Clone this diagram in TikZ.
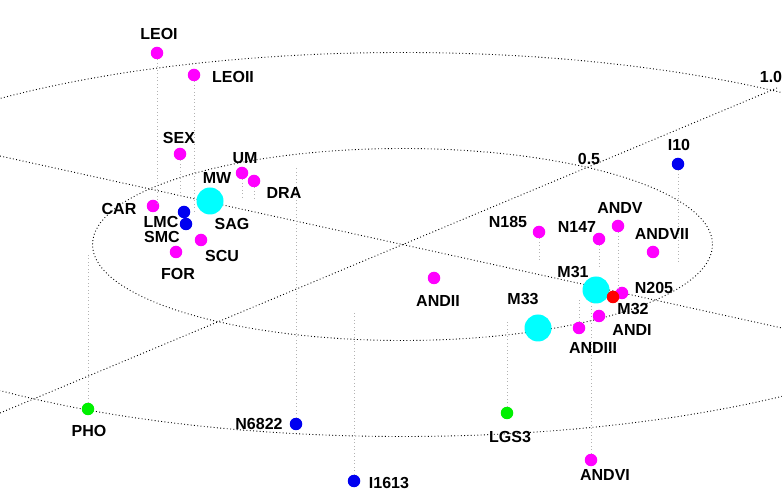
\documentclass[tikz,border=0pt]{standalone}
\usepackage{fontspec}
\setmainfont{Liberation Sans}
\definecolor{Mag}{RGB}{255,0,255}
\definecolor{Cya}{RGB}{0,255,255}
\definecolor{Blu}{RGB}{0,0,240}
\definecolor{Grn}{RGB}{0,240,0}
\definecolor{Rd}{RGB}{255,0,0}
\tikzset{
  ring/.style={line width=0.9pt, dash pattern=on 0.9pt off 2.4pt},
  drop/.style={draw=gray!60, line width=0.9pt, dash pattern=on 0.9pt off 2.6pt},
  gal/.style={circle, fill=#1, inner sep=0pt, minimum size=12.5pt},
  big/.style={circle, fill=Cya, inner sep=0pt, minimum size=27pt},
  lbl/.style={font=\bfseries\fontsize{16}{17}\selectfont, inner sep=0pt}
}

\begin{document}
\begin{tikzpicture}[x=1pt,y=-1pt]
          \useasboundingbox (0,0) rectangle (782,502);
          \clip (0,0) rectangle (782,502);
          % plane: rings at 0.5 and 1.0, two axes
          \coordinate (o) at (402.5,244.5);
          \draw[ring] (o) ellipse [x radius=310, y radius=96];
          \draw[ring] (o) ellipse [x radius=620, y radius=192];
          \coordinate (ax1a) at (0,413);   \coordinate (ax1b) at (777,88);
          \coordinate (ax2a) at (0,156);   \coordinate (ax2b) at (782,328);
          \draw[ring] (ax1a)--(ax1b);
          \draw[ring] (ax2a)--(ax2b);
          \node[lbl] (r05) at (589,159) {0.5};
          \node[lbl] (r10) at (771,77) {1.0};
          % feet of the drop lines on the plane
          \coordinate (leoi-p) at (157,205);   \coordinate (leoii-p) at (194,212);
          \coordinate (sex-p) at (180,195);    \coordinate (um-p) at (242,197);
          \coordinate (dra-p) at (254,200);    \coordinate (i10-p) at (678,262);
          \coordinate (n185-p) at (539,262);   \coordinate (n147-p) at (599,268);
          \coordinate (andv-p) at (618,290);   \coordinate (pho-p) at (88,255);
          \coordinate (n6822-p) at (296,168);  \coordinate (i1613-p) at (354,313);
          \coordinate (lgs3-p) at (507,320);   \coordinate (andvi-p) at (591,300);
          \coordinate (andiii-p) at (579,300);
          % galaxies
          \node[gal=Mag] (leoi) at (157,53) {};
          \node[gal=Mag] (leoii) at (194,75) {};
          \node[gal=Mag] (sex) at (180,154) {};
          \node[gal=Mag] (um) at (242,173) {};
          \node[gal=Mag] (dra) at (254,181) {};
          \node[big] (mw) at (210,201) {};
          \node[gal=Mag] (car) at (153,206) {};
          \node[gal=Blu] (lmc) at (184,212) {};
          \node[gal=Blu] (smc) at (186,224) {};
          \node[gal=Mag] (scu) at (201,240) {};
          \node[gal=Mag] (for) at (176,252) {};
          \node[gal=Blu] (i10) at (678,164) {};
          \node[gal=Mag] (n185) at (539,232) {};
          \node[gal=Mag] (n147) at (599,239) {};
          \node[gal=Mag] (andv) at (618,226) {};
          \node[gal=Mag] (andvii) at (653,252) {};
          \node[big] (m31) at (596,290) {};
          \node[gal=Mag] (n205) at (622,293) {};
          \node[gal=Rd] (m32) at (613,297) {};
          \node[gal=Mag] (andi) at (599,316) {};
          \node[gal=Mag] (andiii) at (579,328) {};
          \node[big] (m33) at (538,328) {};
          \node[gal=Mag] (andii) at (434,278) {};
          \node[gal=Grn] (pho) at (88,409) {};
          \node[gal=Blu] (n6822) at (296,424) {};
          \node[gal=Blu] (i1613) at (354,481) {};
          \node[gal=Grn] (lgs3) at (507,413) {};
          \node[gal=Mag] (andvi) at (591,460) {};
          % drop lines
          \draw[drop] (leoi)--(leoi-p);
          \draw[drop] (leoii)--(leoii-p);
          \draw[drop] (sex)--(sex-p);
          \draw[drop] (um)--(um-p);
          \draw[drop] (dra)--(dra-p);
          \draw[drop] (i10)--(i10-p);
          \draw[drop] (n185)--(n185-p);
          \draw[drop] (n147)--(n147-p);
          \draw[drop] (andv)--(andv-p);
          \draw[drop] (pho)--(pho-p);
          \draw[drop] (n6822)--(n6822-p);
          \draw[drop] (i1613)--(i1613-p);
          \draw[drop] (lgs3)--(lgs3-p);
          \draw[drop] (andvi)--(andvi-p);
          \draw[drop] (andiii)--(andiii-p);
          % names
          \node[lbl] (leoi-l) at (159,34) {LEOI};
          \node[lbl] (leoii-l) at (233,77) {LEOII};
          \node[lbl] (sex-l) at (179,138) {SEX};
          \node[lbl] (um-l) at (245,158) {UM};
          \node[lbl] (mw-l) at (217,178) {MW};
          \node[lbl] (dra-l) at (284,193) {DRA};
          \node[lbl] (car-l) at (119,209) {CAR};
          \node[lbl] (lmc-l) at (161,222) {LMC};
          \node[lbl] (smc-l) at (162,237) {SMC};
          \node[lbl] (sag-l) at (232,224) {SAG};
          \node[lbl] (scu-l) at (222,256) {SCU};
          \node[lbl] (for-l) at (178,274) {FOR};
          \node[lbl] (i10-l) at (679,145) {I10};
          \node[lbl] (n185-l) at (508,222) {N185};
          \node[lbl] (n147-l) at (577,227) {N147};
          \node[lbl] (andv-l) at (620,208) {ANDV};
          \node[lbl] (andvii-l) at (662,234) {ANDVII};
          \node[lbl] (m31-l) at (573,272) {M31};
          \node[lbl] (n205-l) at (654,288) {N205};
          \node[lbl] (m32-l) at (633,309) {M32};
          \node[lbl] (andi-l) at (632,330) {ANDI};
          \node[lbl] (andiii-l) at (593,348) {ANDIII};
          \node[lbl] (m33-l) at (523,299) {M33};
          \node[lbl] (andii-l) at (438,301) {ANDII};
          \node[lbl] (pho-l) at (89,431) {PHO};
          \node[lbl] (n6822-l) at (259,424) {N6822};
          \node[lbl] (i1613-l) at (389,483) {I1613};
          \node[lbl] (lgs3-l) at (510,437) {LGS3};
          \node[lbl] (andvi-l) at (605,475) {ANDVI};
\end{tikzpicture}
\end{document}
